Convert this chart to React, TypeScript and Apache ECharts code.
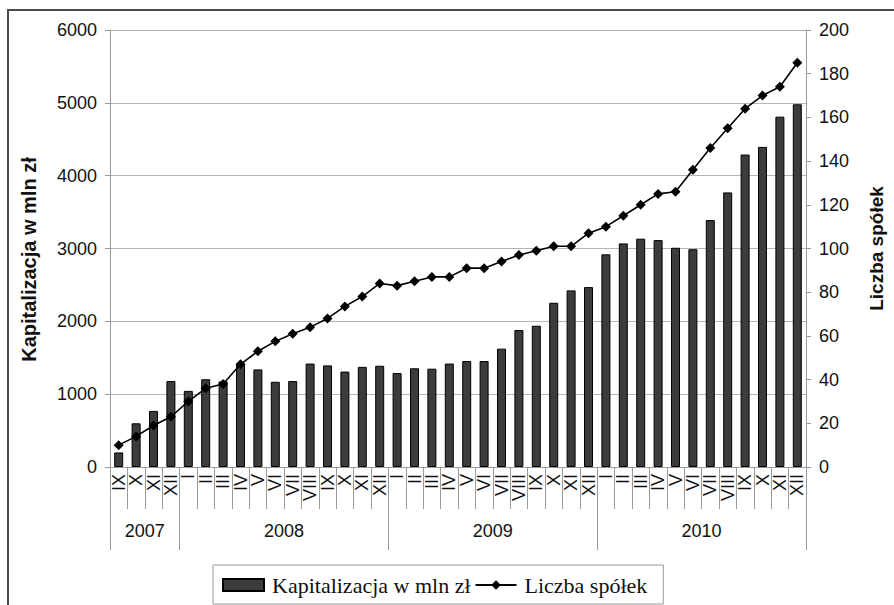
import React, { useEffect, useRef } from "react";
import * as echarts from "echarts";

const romans = ["I", "II", "III", "IV", "V", "VI", "VII", "VIII", "IX", "X", "XI", "XII"];
const months: string[] = [
  "IX", "X", "XI", "XII",
  ...romans, ...romans, ...romans,
];
const years = ["2007", "2008", "2009", "2010"];
const monthsPerYear = [4, 12, 12, 12];

const capitalization = [
  200, 600, 770, 1180,
  1045, 1205, 1175, 1420, 1340, 1170, 1180, 1420, 1395, 1310, 1375, 1390,
  1290, 1355, 1350, 1420, 1455, 1455, 1625, 1880, 1940, 2255, 2425, 2470,
  2920, 3070, 3135, 3115, 3010, 2990, 3390, 3770, 4290, 4395, 4810, 4980,
];
const companies = [
  10, 14, 19, 23,
  30, 36, 38, 47, 53, 57.5, 61, 64, 68, 73.5, 78, 84,
  83, 85, 87, 87, 91, 91, 94, 97, 99, 101, 101, 107,
  110, 115, 120, 125, 126, 136, 146, 155, 164, 170, 174, 185,
];

const leftTicks = { min: 0, max: 6000, interval: 1000 };
const rightTicks = { min: 0, max: 200, interval: 20 };

const SANS = "'Liberation Sans', Arial, sans-serif";
const SERIF = "'Liberation Serif', 'Times New Roman', serif";

export default function App() {
  const ref = useRef<HTMLDivElement>(null);
  useEffect(() => {
    if (!ref.current) return;
    const chart = echarts.init(ref.current, null, { renderer: "svg" });
    const bounds: number[] = [0];
    monthsPerYear.forEach((n) => bounds.push(bounds[bounds.length - 1] + n));
    const centers = monthsPerYear.map((n, i) => bounds[i] + n / 2);
    const gray = "#9a9a9a";
    chart.setOption({
      animation: false,
      backgroundColor: "#fff",
      grid: { left: 110, right: 88, top: 30, bottom: 138, containLabel: false },
      graphic: [
        {
          type: "rect",
          shape: { x: 8, y: 10, width: 900, height: 610 },
          style: { fill: "none", stroke: "#4a4a4a", lineWidth: 2 },
          silent: true,
        },
      ],
      legend: {
        left: 213,
        top: 565,
        padding: [9, 16, 8, 9],
        borderColor: "#9a9a9a",
        borderWidth: 1,
        itemGap: 4,
        itemWidth: 41,
        itemHeight: 12,
        textStyle: { fontFamily: SERIF, fontSize: 22, color: "#111", padding: [0, 0, 0, 3] },
        data: [
          { name: "Kapitalizacja w mln zł", icon: "rect" },
          { name: "Liczba spółek" },
        ],
      },
      xAxis: [
        {
          type: "category",
          data: months,
          boundaryGap: true,
          axisLine: { show: true, lineStyle: { color: gray } },
          axisTick: { show: true, length: 42, lineStyle: { color: gray } },
          axisLabel: {
            rotate: 90,
            interval: 0,
            margin: 7,
            fontFamily: SANS,
            fontSize: 18,
            color: "#111",
          },
        },
        {
          type: "value",
          position: "bottom",
          min: 0,
          max: bounds[bounds.length - 1],
          axisLine: { show: false },
          splitLine: { show: false },
          axisTick: {
            show: true,
            length: 83,
            customValues: bounds,
            lineStyle: { color: gray },
          },
          axisLabel: {
            show: true,
            customValues: centers,
            margin: 55,
            fontFamily: SANS,
            fontSize: 18,
            color: "#111",
            formatter: (v: number) => {
              const i = centers.indexOf(v);
              return i >= 0 ? years[i] : "";
            },
          },
        },
      ],
      yAxis: [
        {
          type: "value",
          ...leftTicks,
          name: "Kapitalizacja w mln zł",
          nameLocation: "middle",
          nameGap: 71,
          nameTextStyle: {
            fontFamily: SANS,
            fontSize: 20,
            fontWeight: "bold",
            color: "#111",
            padding: [0, 22, 0, 0],
          },
          axisLine: { show: true, lineStyle: { color: gray } },
          axisTick: { show: true, length: 5, lineStyle: { color: gray } },
          axisLabel: {
            margin: 13,
            fontFamily: SANS,
            fontSize: 18,
            color: "#111",
            formatter: (v: number) => String(v),
          },
          splitLine: { show: true, lineStyle: { color: "#b5b5b5", width: 1 } },
        },
        {
          type: "value",
          ...rightTicks,
          position: "right",
          name: "Liczba spółek",
          nameLocation: "middle",
          nameGap: 61,
          nameRotate: 90,
          nameTextStyle: { fontFamily: SANS, fontSize: 19, fontWeight: "bold", color: "#111" },
          axisLine: { show: true, lineStyle: { color: gray } },
          axisTick: { show: true, length: 5, lineStyle: { color: gray } },
          axisLabel: {
            margin: 13,
            fontFamily: SANS,
            fontSize: 18,
            color: "#111",
            formatter: (v: number) => String(v),
          },
          splitLine: { show: false },
        },
      ],
      series: [
        {
          name: "Kapitalizacja w mln zł",
          type: "bar",
          xAxisIndex: 0,
          yAxisIndex: 0,
          data: capitalization,
          barWidth: 9,
          itemStyle: { color: "#3c3c3c", borderColor: "#000", borderWidth: 1 },
        },
        {
          name: "Liczba spółek",
          type: "line",
          xAxisIndex: 0,
          yAxisIndex: 1,
          data: companies,
          symbol: "diamond",
          symbolSize: 10,
          lineStyle: { color: "#000", width: 1.6 },
          itemStyle: { color: "#000" },
        },
      ],
    });
    return () => chart.dispose();
  }, []);
  return (
    <div
      ref={ref}
      style={{ position: "absolute", left: 0, top: 0, width: 894, height: 605 }}
    />
  );
}
